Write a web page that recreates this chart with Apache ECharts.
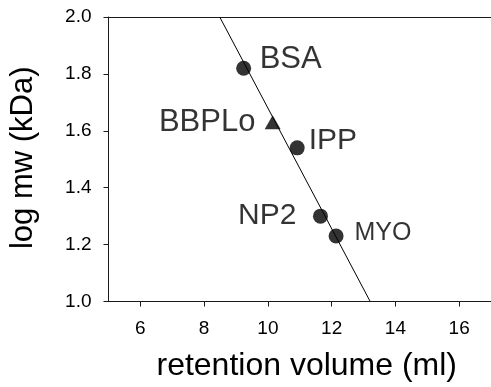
<!DOCTYPE html>
<html>
<head>
<meta charset="utf-8">
<script src="https://cdn.jsdelivr.net/npm/echarts@6/dist/echarts.min.js"></script>
<style>
  html, body { margin: 0; padding: 0; background: #fff; }
  #chart { width: 491px; height: 387px; }
</style>
</head>
<body>
<div id="chart"></div>
<script>
// Calibration standards: retention volume (ml) vs log molecular weight (kDa)
const standardNames = ['BSA', 'IPP', 'NP2', 'MYO'];
const standardVolume = [9.24, 10.92, 11.65, 12.14];
const standardLogMw = [1.82, 1.54, 1.30, 1.23];

// Sample measured against the standards
const sampleNames = ['BBPLo'];
const sampleVolume = [10.15];
const sampleLogMw = [1.63];

// Calibration line end points (volume, log mw)
const fitVolume = [8.49, 13.21];
const fitLogMw = [2.0, 1.0];

const xTicks = [6, 8, 10, 12, 14, 16];

const FONT = 'Liberation Sans, Arial, Helvetica, sans-serif';

// Label placement for each point
const labelLayout = {
  BSA:   { position: 'right', offset: [3.5, -8.5], fontSize: 31 },
  IPP:   { position: 'right', offset: [-1, -6.7], fontSize: 30 },
  NP2:   { position: 'left',  offset: [-11.5, 0], fontSize: 30 },
  MYO:   { position: 'right', offset: [5.8, -3],  fontSize: 25 },
  BBPLo: { position: 'left',  offset: [-4.2, 0],  fontSize: 31 }
};

function pointItems(names, xs, ys) {
  return names.map((n, i) => {
    const l = labelLayout[n];
    return {
      name: n,
      value: [xs[i], ys[i]],
      label: {
        show: true,
        formatter: n,
        position: l.position,
        distance: 5,
        offset: l.offset,
        fontSize: l.fontSize,
        fontFamily: FONT,
        color: '#000'
      }
    };
  });
}

const chart = echarts.init(document.getElementById('chart'), null, { renderer: 'canvas' });

const axisLineStyle = { color: '#1a1a1a', width: 1 };

chart.setOption({
  animation: false,
  backgroundColor: '#fff',
  grid: { left: 106, right: 0, top: 17, bottom: 81, containLabel: false },
  xAxis: [
    {
      type: 'value',
      min: 5,
      max: 17,
      name: 'retention volume (ml)',
      nameLocation: 'middle',
      nameGap: 48.5,
      nameTextStyle: { fontSize: 32, fontFamily: FONT, color: '#000', padding: [0, 0, 0, 14] },
      axisLine: { show: true, onZero: false, lineStyle: axisLineStyle },
      axisTick: { show: true, inside: false, length: 5, lineStyle: axisLineStyle, customValues: xTicks },
      axisLabel: { fontSize: 19, fontFamily: FONT, color: '#000', margin: 18, customValues: xTicks },
      splitLine: { show: false }
    },
    {
      type: 'value',
      position: 'top',
      min: 5,
      max: 17,
      axisLine: { show: true, onZero: false, lineStyle: axisLineStyle },
      axisTick: { show: false },
      axisLabel: { show: false },
      splitLine: { show: false }
    }
  ],
  yAxis: {
    type: 'value',
    min: 1.0,
    max: 2.0,
    interval: 0.2,
    name: 'log mw (kDa)',
    nameLocation: 'middle',
    nameRotate: 90,
    nameGap: 69.5,
    nameTextStyle: { fontSize: 31, fontFamily: FONT, color: '#000', padding: [0, 0, 0, 3] },
    axisLine: { show: true, onZero: false, lineStyle: axisLineStyle },
    axisTick: { show: true, inside: false, length: 5, lineStyle: axisLineStyle },
    axisLabel: {
      fontSize: 19, fontFamily: FONT, color: '#000', margin: 17,
      formatter: v => v.toFixed(1)
    },
    splitLine: { show: false }
  },
  series: [
    {
      type: 'line',
      data: fitVolume.map((v, i) => [v, fitLogMw[i]]),
      symbol: 'none',
      lineStyle: { color: '#000', width: 1 },
      silent: true,
      z: 1
    },
    {
      type: 'scatter',
      data: pointItems(standardNames, standardVolume, standardLogMw),
      symbol: 'circle',
      symbolSize: 15,
      itemStyle: { color: '#000' },
      z: 3
    },
    {
      type: 'scatter',
      data: pointItems(sampleNames, sampleVolume, sampleLogMw),
      symbol: 'triangle',
      symbolSize: [16, 14],
      itemStyle: { color: '#000' },
      z: 3
    }
  ]
});
</script>
</body>
</html>
